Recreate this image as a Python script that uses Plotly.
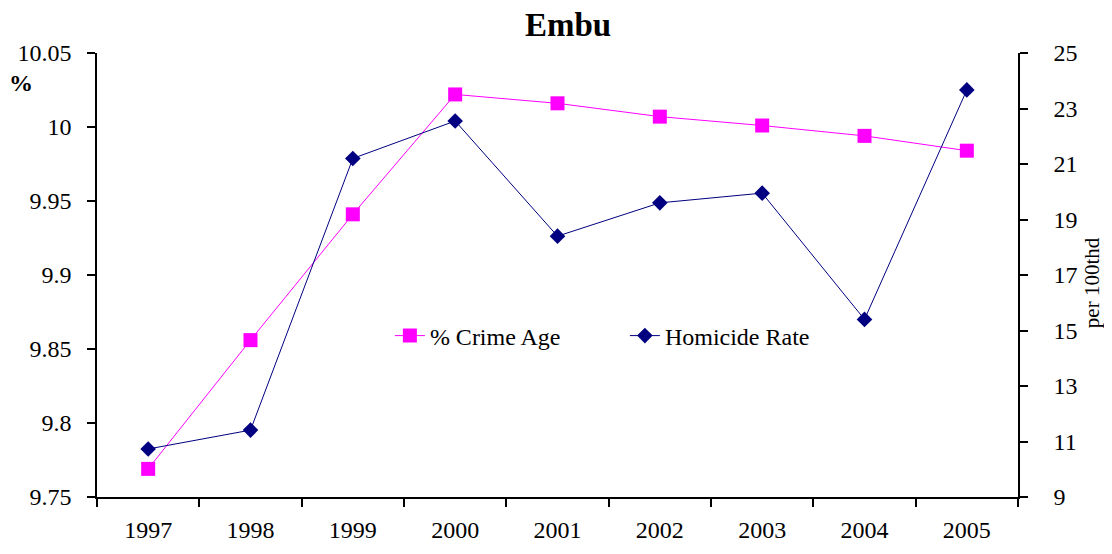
import plotly.graph_objects as go

years = ["1997", "1998", "1999", "2000", "2001", "2002", "2003", "2004", "2005"]
crime_age = [9.769, 9.856, 9.941, 10.022, 10.016, 10.007, 10.001, 9.994, 9.984]
homicide_rate = [10.73, 11.41, 21.2, 22.55, 18.4, 19.6, 19.95, 15.4, 23.67]

FONT = "Liberation Serif, Times New Roman, serif"
FS = 24

fig = go.Figure()
fig.add_trace(go.Scatter(
    x=years, y=crime_age, name="% Crime Age", mode="lines+markers",
    line=dict(color="#ff00ff", width=1),
    marker=dict(symbol="square", size=14, color="#ff00ff"),
    yaxis="y",
))
fig.add_trace(go.Scatter(
    x=years, y=homicide_rate, name="Homicide Rate", mode="lines+markers",
    line=dict(color="#000080", width=1),
    marker=dict(symbol="diamond", size=12, color="#000080"),
    yaxis="y2",
))

axis_common = dict(showgrid=False, zeroline=False, showline=True, linecolor="black",
                   linewidth=1.5, ticks="outside", ticklen=8, tickcolor="black",
                   tickwidth=1.5, automargin=False,
                   tickfont=dict(family=FONT, size=FS, color="black"))

fig.update_layout(
    width=1096, height=538,
    paper_bgcolor="white", plot_bgcolor="white",
    margin=dict(l=89, r=86, t=45, b=49),
    font=dict(family=FONT, size=FS, color="black"),
    title=dict(text="<b>Embu</b>", x=0.511, xref="container", xanchor="center",
               y=0.99, yref="container", yanchor="top",
               font=dict(family=FONT, size=33, color="black")),
    xaxis=dict(type="category", range=[-0.5, 8.5], tickson="boundaries",
               ticklabelstandoff=10, **axis_common),
    yaxis=dict(range=[9.75, 10.05], dtick=0.05, tick0=9.75, ticklabelstandoff=11, **axis_common),
    yaxis2=dict(range=[9, 25], dtick=2, tick0=9, overlaying="y", side="right",
                ticklabelstandoff=21, **axis_common),
    legend=dict(orientation="h", x=0.318, y=0.3626, xanchor="left", yanchor="middle",
                bgcolor="rgba(0,0,0,0)", font=dict(family=FONT, size=FS),
                entrywidth=190, entrywidthmode="pixels", tracegroupgap=0),
    showlegend=True,
)
fig.add_annotation(text="<b>%</b>", xref="paper", yref="paper", x=-0.0825, y=0.932,
                   xanchor="center", yanchor="middle", showarrow=False,
                   font=dict(family=FONT, size=24, color="black"))
fig.add_annotation(text="per 100thd", xref="paper", yref="paper", x=1.0805, y=0.482,
                   xanchor="center", yanchor="middle", showarrow=False, textangle=-90,
                   font=dict(family=FONT, size=21, color="black"))

fig.write_html("out.html")
